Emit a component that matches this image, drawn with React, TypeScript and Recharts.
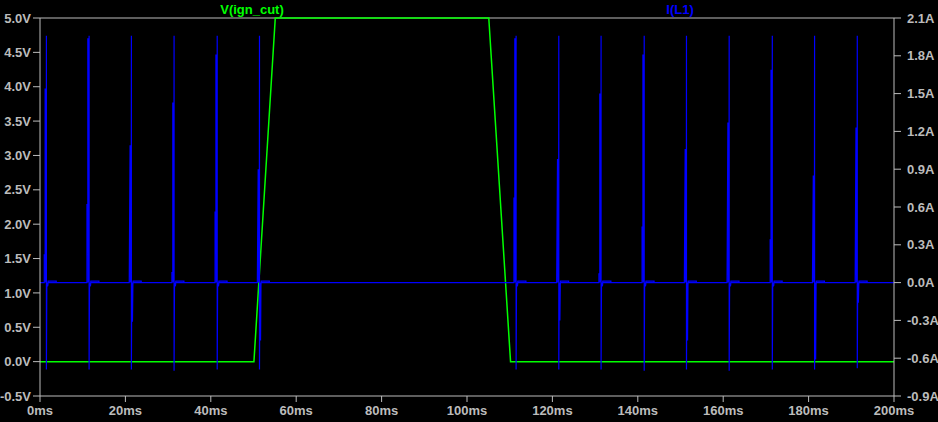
import React from "react";
import {
  ComposedChart,
  Line,
  XAxis,
  YAxis,
  ReferenceLine,
} from "recharts";

// V(ign_cut) trace, ms / volts
const ignTimes = [0, 50.1, 55.1, 105.1, 110.2, 200];
const ignVolts = [0, 0, 5, 5, 0, 0];

// I(L1) spikes, one entry per ignition pulse (ms / amps)
const spikeTimes = [1.5, 11.5, 21.4, 31.4, 41.5, 51.4, 111.5, 121.5, 131.4, 141.5, 151.4, 161.4, 171.5, 181.4, 191.4];
const spikePre = [0.22, 0.62, 0, 0.08, 0.56, 0, 0.67, 0, 0.07, 0.44, 0, 0, 0.34, 0, 0];
const spikeBody = [1.54, 1.94, 1.09, 1.43, 1.81, 0.9, 1.94, 0.98, 1.5, 1.81, 1.06, 1.27, 1.69, 0.85, 1.23];
const spikeMax = [1.96, 1.96, 1.96, 1.96, 1.96, 1.96, 1.96, 1.96, 1.96, 1.96, 1.96, 1.96, 1.96, 1.96, 1.96];
const spikeMin = [-0.69, -0.69, -0.69, -0.7, -0.69, -0.69, -0.69, -0.69, -0.69, -0.7, -0.69, -0.7, -0.69, -0.69, -0.68];
const spikeDip = [-0.03, -0.03, -0.31, -0.03, -0.03, -0.46, -0.03, -0.3, -0.03, -0.03, -0.46, -0.03, -0.03, -0.61, -0.16];

const timeTicks = [0, 20, 40, 60, 80, 100, 120, 140, 160, 180, 200];
const voltTicks = [-0.5, 0, 0.5, 1, 1.5, 2, 2.5, 3, 3.5, 4, 4.5, 5];
const ampTicks = [-0.9, -0.6, -0.3, 0, 0.3, 0.6, 0.9, 1.2, 1.5, 1.8, 2.1];

const GREEN = "#00ff00";
const BLUE = "#0000ff";
const GREY = "#bcbcbc";
const FONT = "'Liberation Sans', Arial, sans-serif";

const ignData = ignTimes.map((t, i) => ({ t, v: ignVolts[i] }));

const coilData: { t: number; a: number }[] = [{ t: 0, a: 0 }];
spikeTimes.forEach((t, k) => {
  const p = (dt: number, a: number) => coilData.push({ t: t + dt, a });
  p(-0.5, 0);
  if (spikePre[k] > 0) {
    p(-0.5, spikePre[k]);
    p(-0.3, spikePre[k]);
  }
  p(-0.3, spikeBody[k]);
  p(-0.2, 0);
  p(-0.15, spikeBody[k]);
  p(-0.05, 0);
  p(0, spikeMax[k]);
  p(0, spikeMin[k]);
  p(0.1, 0);
  p(0.1, spikeDip[k]);
  p(0.2, 0);
  p(0.25, spikeDip[k]);
  p(0.35, -0.02);
  p(0.4, 0.012);
  p(2.3, 0.012);
  p(2.3, 0);
  p(0.4, 0);
  p(2.4, 0);
});
coilData.push({ t: 200, a: 0 });

const tickStyle = { fill: GREY, fontSize: 13, fontFamily: FONT, fontWeight: 700 };

export default function App() {
  return (
    <div style={{ position: "fixed", left: 0, top: 0, width: 938, height: 422, background: "#000" }}>
      <ComposedChart width={938} height={422} margin={{ top: 18, right: 0, bottom: 0, left: 0 }}>
        <XAxis
          type="number"
          dataKey="t"
          domain={[0, 200]}
          ticks={timeTicks}
          tickFormatter={(v) => `${v}ms`}
          height={26}
          tickSize={6}
          tickMargin={4}
          stroke={GREY}
          tick={tickStyle}
          interval={0}
        />
        <YAxis
          yAxisId="v"
          orientation="left"
          domain={[-0.5, 5]}
          ticks={voltTicks}
          tickFormatter={(v) => `${v.toFixed(1)}V`}
          width={40}
          tickSize={7}
          tickMargin={2}
          stroke={GREY}
          tick={tickStyle}
          interval={0}
        />
        <YAxis
          yAxisId="a"
          orientation="right"
          domain={[-0.9, 2.1]}
          ticks={ampTicks}
          tickFormatter={(v) => `${v.toFixed(1)}A`}
          width={44}
          tickSize={7}
          tickMargin={6}
          stroke={GREY}
          tick={tickStyle}
          interval={0}
        />
        <ReferenceLine yAxisId="v" y={5} stroke={GREY} />
        <Line
          yAxisId="v"
          data={ignData}
          dataKey="v"
          type="linear"
          stroke={GREEN}
          strokeWidth={1.5}
          dot={false}
          isAnimationActive={false}
        />
        <Line
          yAxisId="a"
          data={coilData}
          dataKey="a"
          type="linear"
          stroke={BLUE}
          strokeWidth={1.2}
          dot={false}
          isAnimationActive={false}
        />
      </ComposedChart>
      <svg width={938} height={22} style={{ position: "absolute", left: 0, top: 0, pointerEvents: "none" }}>
        <text x={252} y={14} textAnchor="middle" fill={GREEN} fontSize={13} fontFamily={FONT} fontWeight={700}>
          V(ign_cut)
        </text>
        <text x={680} y={14} textAnchor="middle" fill={BLUE} fontSize={13} fontFamily={FONT} fontWeight={700}>
          I(L1)
        </text>
      </svg>
    </div>
  );
}
